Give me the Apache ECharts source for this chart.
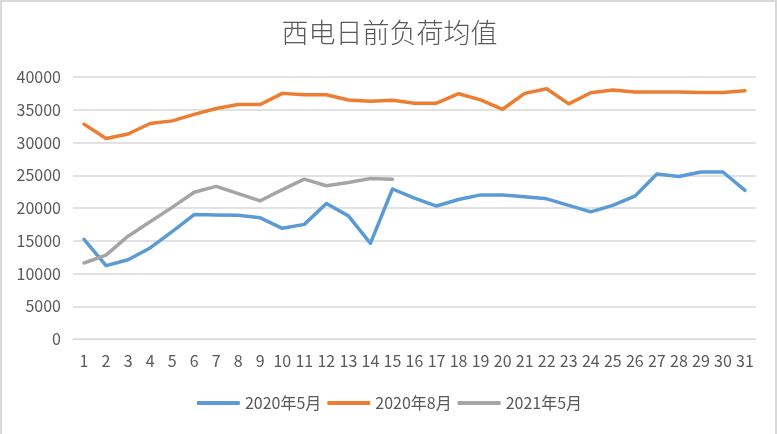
<!DOCTYPE html>
<html>
<head>
<meta charset="utf-8">
<script src="https://cdn.jsdelivr.net/npm/echarts@6/dist/echarts.min.js"></script>
<style>
html,body{margin:0;padding:0;background:#fff;}
#c{position:absolute;left:0;top:0;width:779px;height:434px;}
#frame{position:absolute;left:0;top:0;width:777px;height:434px;box-sizing:border-box;border-left:2px solid #d9d9d9;border-top:2px solid #d9d9d9;border-right:2px solid #d9d9d9;pointer-events:none;}
</style>
</head>
<body>
<div id="c"></div>
<div id="frame"></div>
<script>
const categories = ['1','2','3','4','5','6','7','8','9','10','11','12','13','14','15','16','17','18','19','20','21','22','23','24','25','26','27','28','29','30','31'];
const may2020 = [15200,11200,12100,13900,16400,19000,18950,18900,18500,16900,17500,20700,18800,14600,22900,21500,20300,21300,22000,22000,21700,21400,20400,19400,20400,21800,25200,24800,25500,25500,22700];
const aug2020 = [32800,30600,31300,32900,33300,34300,35200,35800,35800,37500,37300,37300,36500,36300,36450,36000,36000,37450,36500,35070,37500,38200,35900,37600,38000,37700,37700,37700,37650,37650,37900];
const may2021 = [11600,12800,15700,17900,20100,22400,23300,22200,21100,22800,24400,23400,23900,24500,24400,null,null,null,null,null,null,null,null,null,null,null,null,null,null,null,null];
const seriesNames = ['2020年5月','2020年8月','2021年5月'];
const yTicks = {min:0, max:40000, interval:5000};

const chart = echarts.init(document.getElementById('c'));
const font = 'Noto Sans CJK SC';
function line(name, data, color){
  return {name:name, type:'line', data:data, symbol:'none', connectNulls:false,
    lineStyle:{width:3.5, color:color, join:'round', cap:'round'}, itemStyle:{color:color}};
}
chart.setOption({
  animation:false,
  title:{text:'西电日前负荷均值', left:'center', top:14,
    textStyle:{fontFamily:font, fontSize:27, fontWeight:300, color:'#595959'}},
  grid:{left:73, right:23, top:77, bottom:95, containLabel:false},
  xAxis:{type:'category', data:categories, boundaryGap:true,
    axisLine:{lineStyle:{color:'#d9d9d9', width:1}}, axisTick:{show:false},
    axisLabel:{interval:0, margin:14, color:'#595959', fontFamily:font, fontSize:16}},
  yAxis:{type:'value', min:yTicks.min, max:yTicks.max, interval:yTicks.interval,
    axisLine:{show:false}, axisTick:{show:false},
    axisLabel:{margin:12, color:'#595959', fontFamily:font, fontSize:16, formatter:function(v){return String(v);}},
    splitLine:{lineStyle:{color:'#d9d9d9', width:1.5}}},
  legend:{bottom:18, left:'center', icon:'roundRect', itemWidth:43, itemHeight:4, itemGap:6,
    textStyle:{color:'#595959', fontFamily:font, fontSize:16}},
  series:[line(seriesNames[0], may2020, '#5B9BD5'), line(seriesNames[1], aug2020, '#ED7D31'), line(seriesNames[2], may2021, '#A5A5A5')]
});
</script>
</body>
</html>
